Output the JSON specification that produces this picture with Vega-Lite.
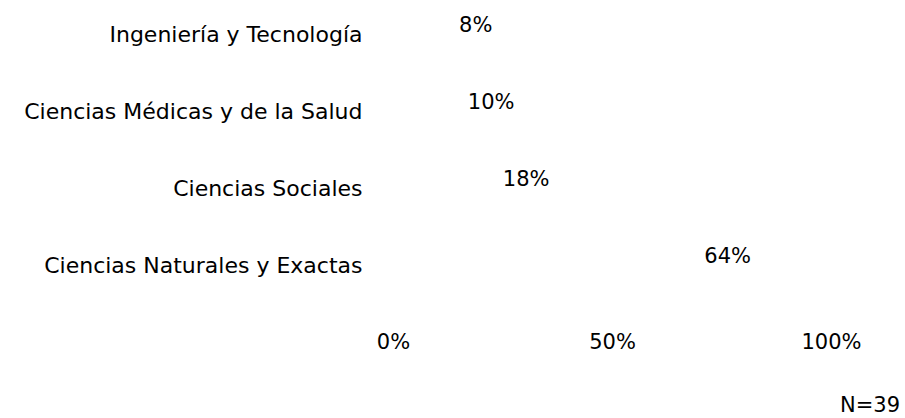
{
  "$schema": "https://vega.github.io/schema/vega-lite/v6.json",
  "width": 438,
  "height": 308,
  "autosize": {"type": "none"},
  "padding": {"left": 393, "top": 0, "right": 74, "bottom": 110},
  "background": "white",
  "config": {
    "view": {"stroke": null},
    "font": "DejaVu Sans",
    "axis": {"labelFont": "DejaVu Sans", "labelColor": "#000000"}
  },
  "title": {
    "text": "N=39",
    "orient": "bottom",
    "anchor": "end",
    "frame": "group",
    "font": "DejaVu Sans",
    "fontSize": 21,
    "fontWeight": "normal",
    "color": "#000000",
    "dx": 69,
    "offset": 43
  },
  "data": {
    "values": [
      {"area": "Ingeniería y Tecnología", "pct": 0.08},
      {"area": "Ciencias Médicas y de la Salud", "pct": 0.10},
      {"area": "Ciencias Sociales", "pct": 0.18},
      {"area": "Ciencias Naturales  y Exactas", "pct": 0.64}
    ]
  },
  "encoding": {
    "y": {
      "field": "area",
      "type": "nominal",
      "sort": ["Ingeniería y Tecnología", "Ciencias Médicas y de la Salud", "Ciencias Sociales", "Ciencias Naturales  y Exactas"],
      "title": null,
      "axis": {"domain": false, "ticks": false, "labelFontSize": 22, "labelPadding": 31, "labelOffset": -3.5, "labelLimit": 400}
    },
    "x": {
      "field": "pct",
      "type": "quantitative",
      "scale": {"domain": [0, 1]},
      "title": null,
      "axis": {"values": [0, 0.5, 1], "format": ".0%", "domain": false, "ticks": false, "grid": false, "labelFontSize": 21, "labelPadding": 23, "labelFlush": false}
    }
  },
  "layer": [
    {"mark": {"type": "bar", "color": "white"}},
    {
      "mark": {"type": "text", "fontSize": 21, "dx": 31, "dy": -12.5, "color": "#000000", "align": "left"},
      "encoding": {"text": {"field": "pct", "type": "quantitative", "format": ".0%"}}
    }
  ]
}
